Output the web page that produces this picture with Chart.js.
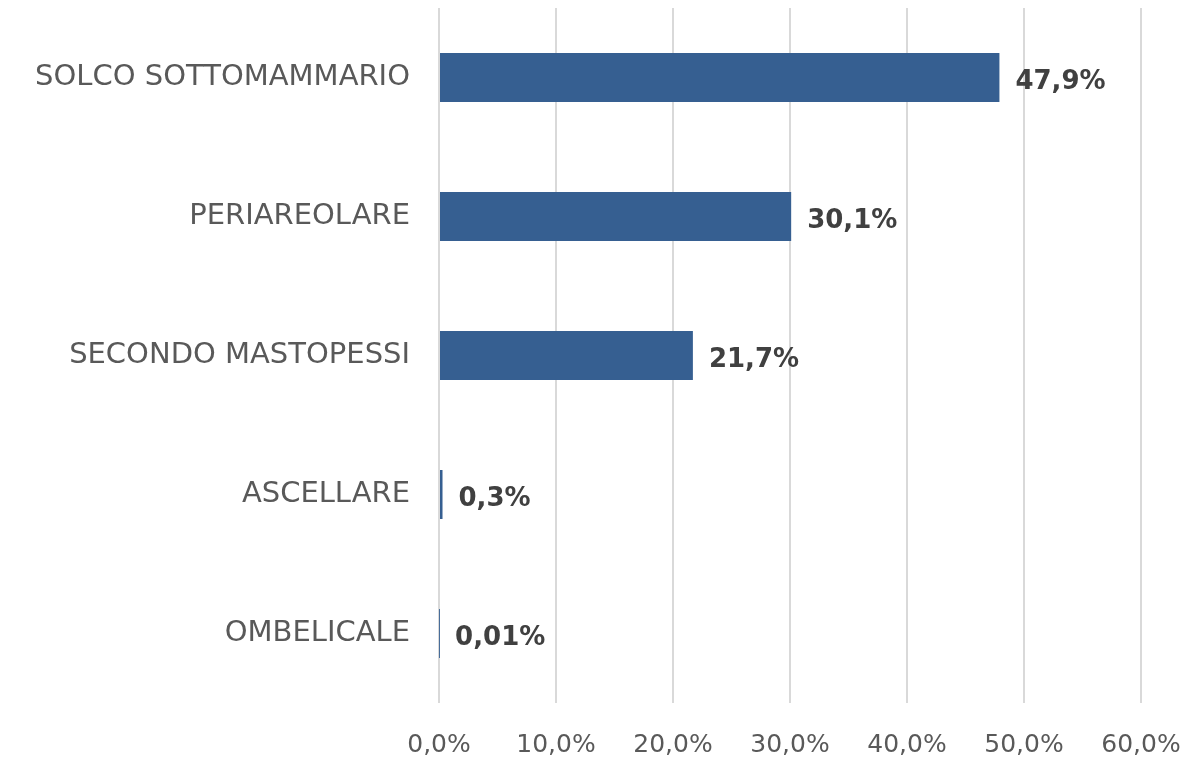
<!DOCTYPE html>
<html>
<head>
<meta charset="utf-8">
<script src="https://cdn.jsdelivr.net/npm/chart.js@4/dist/chart.umd.min.js"></script>
<style>
  html, body { margin: 0; padding: 0; background: #ffffff; }
  #wrap { width: 1192px; height: 760px; position: relative; }
</style>
</head>
<body>
<div id="wrap"><canvas id="c" width="1192" height="760"></canvas></div>
<script>
const categories = ["SOLCO SOTTOMAMMARIO", "PERIAREOLARE", "SECONDO MASTOPESSI", "ASCELLARE", "OMBELICALE"];
const values = [47.9, 30.1, 21.7, 0.3, 0.01];
const valueLabels = ["47,9%", "30,1%", "21,7%", "0,3%", "0,01%"];
const tickValues = [0, 10, 20, 30, 40, 50, 60];
const tickLabels = ["0,0%", "10,0%", "20,0%", "30,0%", "40,0%", "50,0%", "60,0%"];

const FONT = "'DejaVu Sans', sans-serif";

const valueLabelPlugin = {
  id: 'valueLabels',
  afterDatasetsDraw(chart) {
    const ctx = chart.ctx;
    const meta = chart.getDatasetMeta(0);
    ctx.save();
    ctx.font = "bold 26px " + FONT;
    ctx.fillStyle = "#404040";
    ctx.textBaseline = "middle";
    ctx.textAlign = "left";
    meta.data.forEach((bar, i) => {
      ctx.fillText(valueLabels[i], bar.x + 16, bar.y + 5);
    });
    ctx.restore();
  }
};

new Chart(document.getElementById('c'), {
  type: 'bar',
  data: {
    labels: categories,
    datasets: [{
      data: values,
      backgroundColor: '#365F91',
      borderWidth: 0,
      categoryPercentage: 1,
      barPercentage: 0.3525
    }]
  },
  options: {
    indexAxis: 'y',
    responsive: false,
    animation: false,
    layout: { padding: { top: 8, right: 51, left: 0, bottom: 0 } },
    plugins: { legend: { display: false }, tooltip: { enabled: false } },
    scales: {
      x: {
        min: 0, max: 60,
        afterBuildTicks(axis) { axis.ticks = tickValues.map(v => ({ value: v })); },
        afterFit(axis) { axis.height = 57; axis.paddingLeft = 0; axis.paddingRight = 0; },
        grid: { color: '#D9D9D9', lineWidth: 2, drawTicks: false },
        border: { display: false },
        ticks: {
          padding: 27,
          color: '#595959',
          font: { family: FONT, size: 25 },
          callback: (v, i) => tickLabels[i]
        }
      },
      y: {
        afterFit(axis) { axis.width = 439; axis.paddingTop = 0; axis.paddingBottom = 0; },
        grid: { display: false, drawTicks: false },
        border: { display: false },
        ticks: {
          padding: 29,
          color: '#595959',
          font: { family: FONT, size: 29 }
        }
      }
    }
  },
  plugins: [valueLabelPlugin]
});
</script>
</body>
</html>
